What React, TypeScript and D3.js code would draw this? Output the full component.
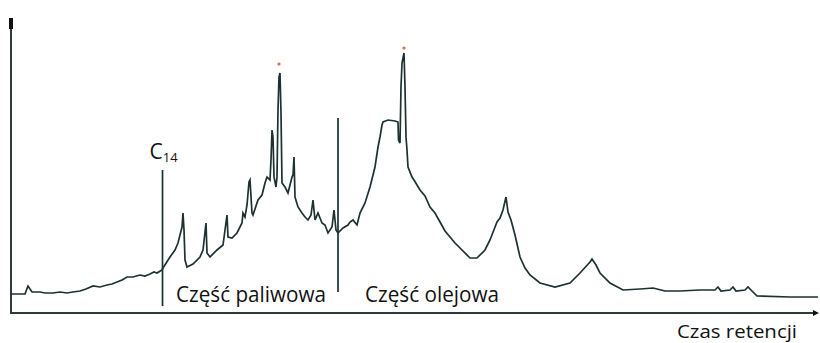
import React from "react";
import * as d3 from "d3";

// Retention time (arbitrary units) and detector signal
const retentionTime = [
  0, 1.4, 1.7, 2.1, 2.9, 3.4, 4.2, 4.9, 5.6, 6.2, 6.9, 7.5, 8.2, 8.9, 9.6, 10.1, 10.6, 11.1, 11.6, 12.2, 12.9,
  13.4, 13.9, 14.3, 14.6, 15.1, 15.2, 15.9,
  16.4, 16.7, 17.1, 17.2, 17.3, 17.4, 17.6, 18.2, 18.9, 19.2, 19.5, 19.6, 19.9, 20.6, 21.2, 21.6, 21.7, 22.1,
  22.6, 23.1, 23.2, 23.4, 23.6, 23.8, 23.9, 24.1, 24.2, 24.7, 25.1, 25.4, 25.6, 25.9, 26.0, 26.1, 26.2, 26.3,
  26.5, 26.6, 26.7, 26.8, 26.9, 27.0, 27.1, 27.4, 27.7, 28.1, 28.2, 28.3, 28.4, 28.7, 29.1, 29.4, 29.7, 30.0,
  30.2, 30.4, 30.7, 31.1, 31.4, 31.7, 32.1, 32.3, 32.5, 32.7, 33.2, 33.7, 33.9, 34.2, 34.6, 34.9, 35.4, 35.9,
  36.4, 36.7, 36.9, 37.1, 37.2, 37.7, 38.4, 38.7, 38.75, 38.9, 39.0, 39.1, 39.3, 39.4, 39.5, 39.6, 39.7, 40.1,
  40.3, 40.9, 41.4, 41.9, 42.4, 42.9, 43.4, 43.9, 44.4, 44.9, 45.9, 46.6, 47.4, 47.9, 48.6, 48.9, 49.2, 49.5,
  49.7, 50.0, 50.4, 50.9, 51.4, 51.9, 52.9, 54.4, 55.9, 56.9, 57.9, 58.1, 58.5, 58.9, 59.9, 61.2, 62.9, 64.2,
  65.4, 66.9, 68.9, 70.4, 70.7, 71.0, 71.9, 72.2, 72.5, 73.4, 73.7, 74.1, 74.6, 77.9, 80.7,
];
const signal = [
  19, 19, 27, 21, 21, 20, 20, 21, 20, 21, 22, 24, 27, 26, 28, 29, 31, 33, 36, 36, 38,
  37, 39, 41, 40, 43, 45, 56,
  63, 70, 86, 100, 83, 53, 46, 49, 56, 63, 90, 60, 56, 63, 68, 98, 76, 75,
  80, 90, 100, 96, 108, 131, 133, 100, 98, 113, 118, 130, 136, 133, 153, 183, 176, 136,
  126, 136, 203, 236, 240, 200, 130, 126, 120, 136, 138, 156, 116, 106, 100, 96, 93, 98,
  113, 93, 100, 90, 88, 80, 86, 103, 83, 80, 85, 88, 91, 93, 88, 100, 110, 126,
  146, 166, 176, 188, 191, 193, 192, 191, 173, 170, 226, 250, 260, 226, 176, 163, 146, 136,
  133, 123, 117, 106, 100, 91, 82, 76, 70, 65, 55, 55, 63, 73, 91, 95, 103, 116,
  101, 93, 78, 56, 45, 38, 30, 26, 30, 40, 51, 54, 48, 40, 30, 23, 24, 25,
  22, 22, 23, 23, 26, 22, 23, 26, 22, 23, 26, 22, 17, 16, 16,
];

// Red marker dots above the two main peaks
const markerTime = [26.8, 39.3];
const markerSignal = [249, 265];

// Vertical separator lines
const separatorTime = [15.15, 32.7];
const separatorTop = [143, 195];
const separatorBottom = [7, 21];

const regionLabels = ["Część paliwowa", "Część olejowa"];
const regionLabelTime = [16.5, 35.4];
const axisTitle = "Czas retencji";

const W = 820;
const H = 343;
const X0 = 11;
const X1 = 818;
const Y0 = 313;
const Y1 = 20;

export default function App() {
  const x = d3.scaleLinear().domain([0, 80.7]).range([X0, X1]);
  const y = d3.scaleLinear().domain([0, 293]).range([Y0, Y1]);

  const pts = retentionTime.map((t, i) => [t, signal[i]] as [number, number]);
  const line = d3
    .line<[number, number]>()
    .x((d) => x(d[0]))
    .y((d) => y(d[1]))
    .curve(d3.curveLinear);

  const stroke = "#1d3131";
  const axisColor = "#2c3c3c";
  const font = "'Open Sans', 'DejaVu Sans', sans-serif";

  return (
    <svg
      width={W}
      height={H}
      style={{ position: "absolute", left: 0, top: 0, background: "#ffffff" }}
    >
      {/* axes */}
      <line x1={X0} y1={Y0} x2={X0} y2={24} stroke={axisColor} strokeWidth={2} />
      <rect x={9} y={18} width={4} height={11} fill="#111" />
      <line x1={X0 - 1} y1={Y0} x2={X1 - 3} y2={Y0} stroke={axisColor} strokeWidth={2} />
      <path d={`M${X1 - 5},${Y0 - 3} L${X1 + 1},${Y0} L${X1 - 5},${Y0 + 3} Z`} fill="#111" />

      {/* separators */}
      {separatorTime.map((t, i) => (
        <line
          key={i}
          x1={x(t)}
          x2={x(t)}
          y1={y(separatorTop[i])}
          y2={y(separatorBottom[i])}
          stroke={stroke}
          strokeWidth={1.7}
        />
      ))}

      {/* trace */}
      <path d={line(pts) || ""} fill="none" stroke={stroke} strokeWidth={1.7} strokeLinejoin="miter" />

      {/* red markers */}
      {markerTime.map((t, i) => (
        <circle key={i} cx={x(t)} cy={y(markerSignal[i])} r={1.6} fill="#e8654f" />
      ))}

      {/* C14 label */}
      <text x={x(separatorTime[0]) - 13} y={159} fontFamily={font} fontSize={21} fill="#111">
        C
        <tspan fontSize={13} dy={3}>14</tspan>
      </text>

      {/* region labels */}
      <text
        x={x(regionLabelTime[0])}
        y={302}
        fontFamily={font}
        fontSize={21}
        fill="#111"
        textLength={150}
        lengthAdjust="spacingAndGlyphs"
      >
        {regionLabels[0]}
      </text>
      <text
        x={x(regionLabelTime[1])}
        y={302}
        fontFamily={font}
        fontSize={21}
        fill="#111"
        textLength={134}
        lengthAdjust="spacingAndGlyphs"
      >
        {regionLabels[1]}
      </text>

      <text
        x={677}
        y={338}
        fontFamily={font}
        fontSize={19}
        fill="#111"
        textLength={120}
        lengthAdjust="spacingAndGlyphs"
      >
        {axisTitle}
      </text>
    </svg>
  );
}
